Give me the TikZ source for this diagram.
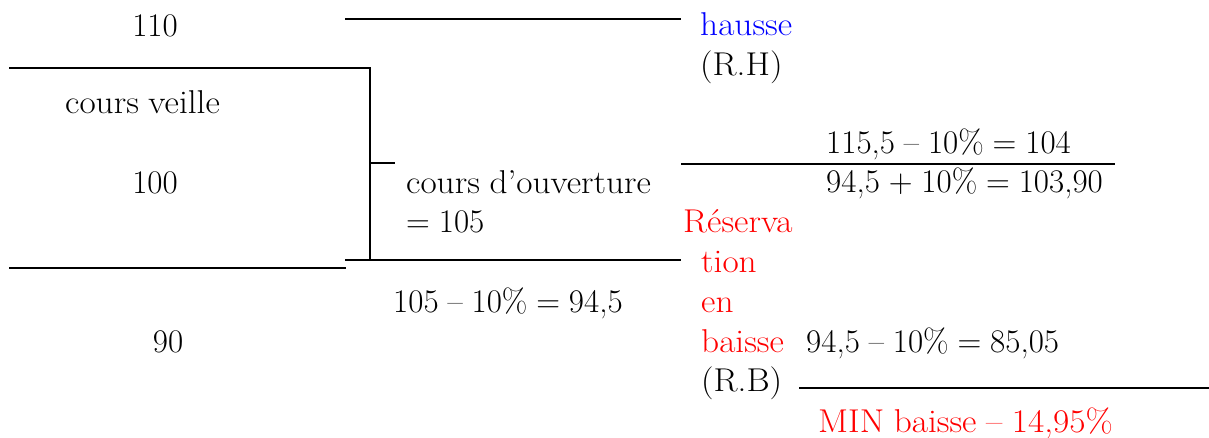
\documentclass[tikz,border=0pt]{standalone}
\usepackage{fontspec}
\usepackage{graphicx}
\definecolor{rblue}{RGB}{0,0,255}
\definecolor{rred}{RGB}{255,0,0}
\newcommand\diagfont{\fontsize{33}{40}\selectfont\spaceskip 0.27em plus 0.1em minus 0.05em\relax}
\newcommand\wide[1]{\scalebox{1.07}[1]{#1}}
\tikzset{
  lbl/.style={anchor=base west,inner sep=0pt,font=\diagfont},
  clbl/.style={lbl,anchor=base},
  rule/.style={line width=2pt,black},
}
\begin{document}
\begin{tikzpicture}[x=1pt,y=-1pt]
\useasboundingbox (0,0) rectangle (1209,437);
% texts
\node[clbl] (t110) at (155,36) {110};
\node[lbl,text=rblue] (hausse) at (700,35) {\wide{hausse}};
\node[lbl] (rh) at (700,75) {\wide{(R.H)}};
\node[lbl] (veille) at (65,113) {\wide{cours veille}};
\node[clbl] (t100) at (155,193) {100};
\node[lbl] (ouv) at (406,193) {\wide{cours d’ouverture}};
\node[lbl] (ouv2) at (406,232) {= 105};
\node[lbl] (f1) at (826,153) {115,5 – 10\% = 104};
\node[lbl] (f2) at (826,192) {94,5 + 10\% = 103,90};
\node[lbl,text=rred] (r1) at (683,232) {\wide{Réserva}};
\node[lbl,text=rred] (r2) at (701,272) {\wide{tion}};
\node[lbl,text=rred] (r3) at (701,312) {\wide{en}};
\node[lbl,text=rred] (r4) at (701,352) {\wide{baisse}};
\node[lbl] (rb) at (701,391) {\wide{(R.B)}};
\node[lbl] (f3) at (393,312) {105 – 10\% = 94,5};
\node[clbl] (t90) at (168,352) {90};
\node[lbl] (f4) at (806,352) {94,5 – 10\% = 85,05};
\node[lbl,text=rred] (minb) at (818,432) {\wide{MIN baisse – 14,95\%}};
% line endpoints
\coordinate (a1) at (345,19);  \coordinate (a2) at (681,19);
\coordinate (b1) at (9,68);    \coordinate (b2) at (370,68);
\coordinate (b3) at (370,260); \coordinate (c1) at (370,163);
\coordinate (c2) at (395,163);
\coordinate (d1) at (9,268);   \coordinate (d2) at (346,268);
\coordinate (e1) at (345,260); \coordinate (e2) at (681,260);
\coordinate (g1) at (681,164); \coordinate (g2) at (1115,164);
\coordinate (h1) at (799,388); \coordinate (h2) at (1209,388);
% lines
\draw[rule] (a1) -- (a2);
\draw[rule] (b1) -- (b2) -- (b3);
\draw[rule] (c1) -- (c2);
\draw[rule] (d1) -- (d2);
\draw[rule] (e1) -- (e2);
\draw[rule] (g1) -- (g2);
\draw[rule] (h1) -- (h2);
\end{tikzpicture}
\end{document}
